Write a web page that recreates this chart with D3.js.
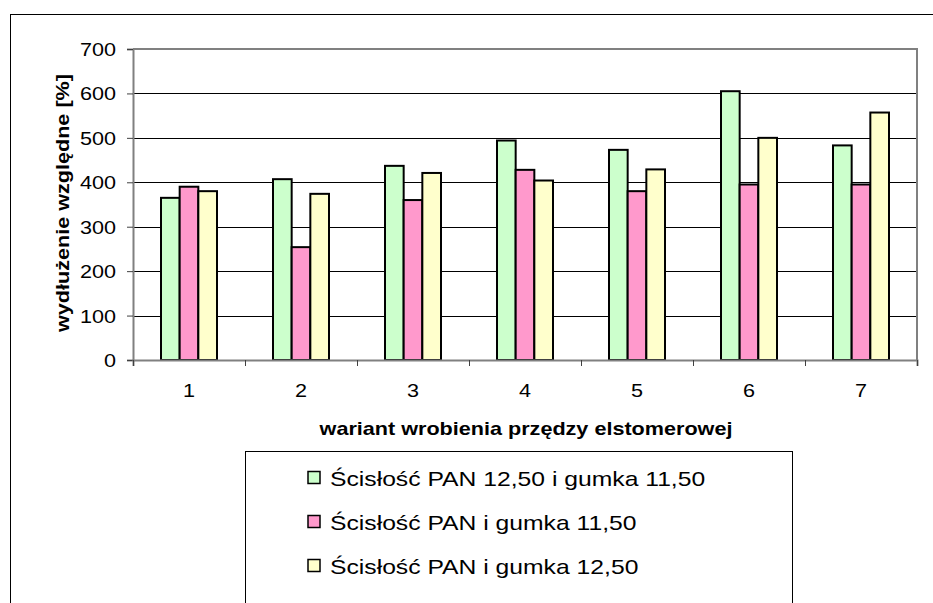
<!DOCTYPE html>
<html>
<head>
<meta charset="utf-8">
<script src="https://cdn.jsdelivr.net/npm/d3@7"></script>
<style>
  html, body { margin: 0; padding: 0; background: #fff; }
  svg { display: block; }
  text { font-family: Arial, "Liberation Sans", sans-serif; fill: #000; }
</style>
</head>
<body>
<svg id="chart" width="933" height="603"></svg>
<script>
// Variants of yarn insertion (x categories)
const categories = ["1", "2", "3", "4", "5", "6", "7"];

// Series names
const seriesNames = [
  "Ścisłość PAN 12,50 i gumka 11,50",
  "Ścisłość PAN i gumka 11,50",
  "Ścisłość PAN i gumka 12,50"
];

// Relative elongation [%] per variant, one array per series
const pan1250gumka1150 = [365, 407, 437, 494, 473, 605, 483];
const pan_gumka1150    = [390, 254, 360, 428, 380, 395, 395];
const pan_gumka1250    = [380, 374, 421, 404, 429, 500, 557];

const yTicks = [0, 100, 200, 300, 400, 500, 600, 700];

const yTitle = "wydłużenie względne [%]";
const xTitle = "wariant wrobienia przędzy elstomerowej";

const seriesValues = [pan1250gumka1150, pan_gumka1150, pan_gumka1250];
const seriesColors = ["#CCFFCC", "#FF99CC", "#FFFFCC"];

const svg = d3.select("#chart");

// Horizontal stretch of the text, as in the original rendering
const kText = 1.2, kLegend = 1.235;

// Outer chart frame
svg.append("rect")
  .attr("x", 10.5).attr("y", 14.5)
  .attr("width", 960).attr("height", 620)
  .attr("fill", "#fff").attr("stroke", "#000").attr("stroke-width", 1);

const plot = { left: 133, right: 917, top: 49, bottom: 360 };

const y = d3.scaleLinear().domain([0, 700]).range([plot.bottom, plot.top]);
const x0 = d3.scaleBand().domain(categories).range([plot.left, plot.right]).padding(0);
const x1 = d3.scaleBand().domain(d3.range(seriesNames.length))
  .range([x0.bandwidth() * 0.25, x0.bandwidth() * 0.75]).padding(0);
const xEdges = d3.scaleLinear().domain([0, categories.length]).range([plot.left, plot.right]);

// Gridlines
svg.append("g")
  .selectAll("line")
  .data(yTicks.filter(t => t > 0 && t < 700))
  .join("line")
  .attr("x1", plot.left).attr("x2", plot.right)
  .attr("y1", d => Math.round(y(d)) + 0.5).attr("y2", d => Math.round(y(d)) + 0.5)
  .attr("stroke", "#000").attr("stroke-width", 1);

// Plot area border (top and right, grey)
svg.append("path")
  .attr("d", `M${plot.left},${plot.top}H${plot.right}V${plot.bottom}`)
  .attr("fill", "none").attr("stroke", "#808080").attr("stroke-width", 2);

// Bars
const groups = svg.append("g")
  .selectAll("g")
  .data(categories)
  .join("g")
  .attr("transform", d => `translate(${x0(d)},0)`);

groups.selectAll("rect")
  .data((c, i) => seriesValues.map((vals, s) => ({ s, v: vals[i] })))
  .join("rect")
  .attr("x", d => x1(d.s))
  .attr("y", d => y(d.v))
  .attr("width", x1.bandwidth())
  .attr("height", d => y(0) - y(d.v))
  .attr("fill", d => seriesColors[d.s])
  .attr("stroke", "#000")
  .attr("stroke-width", 2);

// Y axis
const yAxis = svg.append("g")
  .attr("transform", `translate(${plot.left},0)`)
  .call(d3.axisLeft(y).tickValues(yTicks).tickSize(6).tickPadding(11));
yAxis.select(".domain").attr("stroke", "#808080").attr("stroke-width", 2);
yAxis.selectAll(".tick line").attr("stroke", "#404040");
yAxis.selectAll(".tick text")
  .attr("font-size", 18)
  .attr("font-family", "Arial, 'Liberation Sans', sans-serif")
  .attr("x", null)
  .attr("dy", "0.36em")
  .attr("transform", `translate(-17,0) scale(${kText},1)`);

// X axis: ticks on category boundaries
const xAxis = svg.append("g")
  .attr("transform", `translate(0,${plot.bottom})`)
  .call(d3.axisBottom(xEdges).tickValues(d3.range(categories.length + 1))
    .tickSize(6).tickFormat(""));
xAxis.select(".domain").attr("stroke", "#808080").attr("stroke-width", 2);
xAxis.selectAll(".tick line").attr("stroke", "#404040");

// X category labels
svg.append("g")
  .selectAll("text")
  .data(categories)
  .join("text")
  .attr("text-anchor", "middle")
  .attr("font-size", 18)
  .attr("transform", d => `translate(${x0(d) + x0.bandwidth() / 2},397) scale(${kText},1)`)
  .text(d => d);

// Axis titles
svg.append("text")
  .attr("text-anchor", "middle")
  .attr("font-size", 18)
  .attr("font-weight", "bold")
  .attr("transform", `translate(526,435) scale(${kText},1)`)
  .text(xTitle);

svg.append("text")
  .attr("text-anchor", "middle")
  .attr("font-size", 18)
  .attr("font-weight", "bold")
  .attr("transform", `translate(69,203) rotate(-90) scale(${kText},1)`)
  .text(yTitle);

// Legend
const legend = svg.append("g");
legend.append("rect")
  .attr("x", 245.5).attr("y", 451.5)
  .attr("width", 547).attr("height", 200)
  .attr("fill", "#fff").attr("stroke", "#000").attr("stroke-width", 1);

const items = legend.selectAll("g.item")
  .data(seriesNames)
  .join("g")
  .attr("class", "item")
  .attr("transform", (d, i) => `translate(0,${486 + i * 44})`);

items.append("rect")
  .attr("x", 308).attr("y", -14.5)
  .attr("width", 12).attr("height", 12)
  .attr("fill", (d, i) => seriesColors[i])
  .attr("stroke", "#000").attr("stroke-width", 1.5);

items.append("text")
  .attr("font-size", 20)
  .attr("transform", `translate(330,0) scale(${kLegend},1)`)
  .text(d => d);
</script>
</body>
</html>
